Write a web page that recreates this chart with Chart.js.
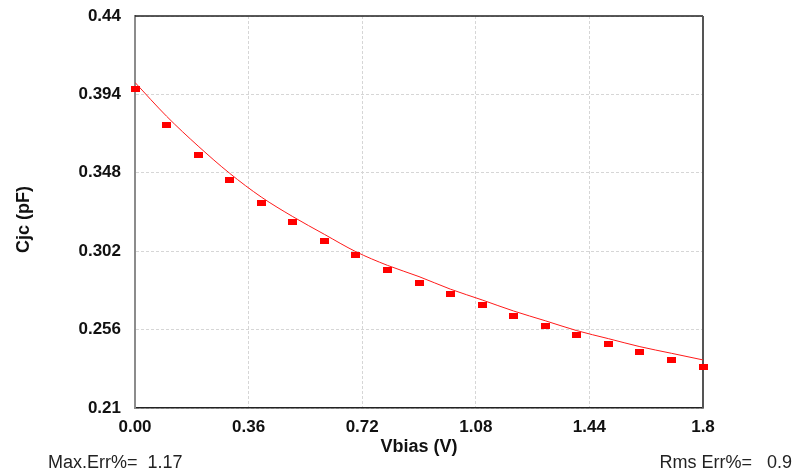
<!DOCTYPE html>
<html>
<head>
<meta charset="utf-8">
<script src="https://cdn.jsdelivr.net/npm/chart.js@4"></script>
<style>
  html, body { margin: 0; padding: 0; background: #fff; }
  #wrap { position: relative; width: 796px; height: 472px; }
  .note { position: absolute; top: 452px; font: 18px "Liberation Sans", Arial, sans-serif; color: #222; white-space: pre; }
</style>
</head>
<body>
<div id="wrap">
  <canvas id="cjc" width="796" height="472"></canvas>
  <div class="note" style="left:48px">Max.Err%=  1.17</div>
  <div class="note" style="right:4px">Rms Err%=   0.9</div>
</div>
<script>
// measured Cjc vs Vbias
const vbias = [0, 0.1, 0.2, 0.3, 0.4, 0.5, 0.6, 0.7, 0.8, 0.9, 1.0, 1.1, 1.2, 1.3, 1.4, 1.5, 1.6, 1.7, 1.8]
const cjcMeasured = [0.397, 0.3759, 0.3585, 0.3436, 0.3301, 0.3192, 0.3082, 0.2998, 0.2912, 0.2835,
  0.2769, 0.2703, 0.2638, 0.2583, 0.2528, 0.2474, 0.2427, 0.2384, 0.2343]
// fitted model curve
const cjcFit = [0.401, 0.3812, 0.3637, 0.3477, 0.3338, 0.3223, 0.3119, 0.3017, 0.2937, 0.2871,
  0.2797, 0.2734, 0.2669, 0.2612, 0.2554, 0.2507, 0.246, 0.2421, 0.2382]

const xTickValues = [0, 0.36, 0.72, 1.08, 1.44, 1.8]
const xTickLabels = ['0.00', '0.36', '0.72', '1.08', '1.44', '1.8']
const yTickValues = [0.21, 0.256, 0.302, 0.348, 0.394, 0.44]
const yTickLabels = ['0.21', '0.256', '0.302', '0.348', '0.394', '0.44']

const tickFont = { family: '"Liberation Sans", Arial, sans-serif', size: 17, weight: 'bold', lineHeight: 1.2 }
const titleFont = { family: '"Liberation Sans", Arial, sans-serif', size: 18, weight: 'bold', lineHeight: 1.2 }

// small red rectangle marker
const marker = document.createElement('canvas')
marker.width = 9
marker.height = 6
const mctx = marker.getContext('2d')
mctx.fillStyle = '#ff0000'
mctx.fillRect(0, 0, 9, 6)

const frame = {
  id: 'frame',
  beforeDatasetsDraw(chart) {
    const { ctx, chartArea: a } = chart
    ctx.save()
    ctx.strokeStyle = '#222'
    ctx.lineWidth = 1.5
    ctx.beginPath()
    ctx.moveTo(a.left, a.top)
    ctx.lineTo(a.right, a.top)
    ctx.stroke()
    ctx.strokeStyle = '#555'
    ctx.lineWidth = 2
    ctx.beginPath()
    ctx.moveTo(a.right, a.top)
    ctx.lineTo(a.right, a.bottom)
    ctx.stroke()
    ctx.restore()
  },
}

new Chart(document.getElementById('cjc').getContext('2d'), {
  type: 'line',
  data: {
    datasets: [
      {
        label: 'Measured',
        data: vbias.map((v, i) => ({ x: v, y: cjcMeasured[i] })),
        showLine: false,
        pointStyle: marker,
        pointRadius: 5,
        clip: false,
      },
      {
        label: 'Fit',
        data: vbias.map((v, i) => ({ x: v, y: cjcFit[i] })),
        borderColor: '#ff1a1a',
        borderWidth: 1,
        pointRadius: 0,
        tension: 0.4,
        cubicInterpolationMode: 'monotone',
      },
    ],
  },
  options: {
    responsive: false,
    animation: false,
    devicePixelRatio: 1,
    layout: { padding: { left: 0, right: 93, top: 16, bottom: 0 } },
    plugins: { legend: { display: false }, tooltip: { enabled: false } },
    scales: {
      x: {
        type: 'linear',
        min: 0,
        max: 1.8,
        afterBuildTicks: (s) => { s.ticks = xTickValues.map((v) => ({ value: v })) },
        afterFit: (s) => { s.height = 64; s.paddingLeft = 0; s.paddingRight = 0 },
        ticks: {
          autoSkip: false,
          maxRotation: 0,
          padding: 9,
          color: '#111',
          font: tickFont,
          callback: (v, i) => xTickLabels[i],
        },
        grid: { color: '#d6d6d6', drawTicks: false },
        border: { color: '#222', width: 1.5, dash: [3, 2] },
        title: { display: true, text: 'Vbias (V)', color: '#111', font: titleFont, padding: { top: 0, bottom: 14 } },
      },
      y: {
        min: 0.21,
        max: 0.44,
        afterBuildTicks: (s) => { s.ticks = yTickValues.map((v) => ({ value: v })) },
        afterFit: (s) => { s.width = 135; s.paddingTop = 0; s.paddingBottom = 0 },
        ticks: {
          autoSkip: false,
          padding: 14,
          color: '#111',
          font: tickFont,
          callback: (v, i) => yTickLabels[i],
        },
        grid: { color: '#d6d6d6', drawTicks: false },
        border: { color: '#8c8c8c', width: 2, dash: [3, 2] },
        // trailing spaces nudge the rotated title a bit lower, as in the original
        title: { display: true, text: 'Cjc (pF)   ', color: '#111', font: titleFont, padding: { top: 13, bottom: 0 } },
      },
    },
  },
  plugins: [frame],
})
</script>
</body>
</html>
